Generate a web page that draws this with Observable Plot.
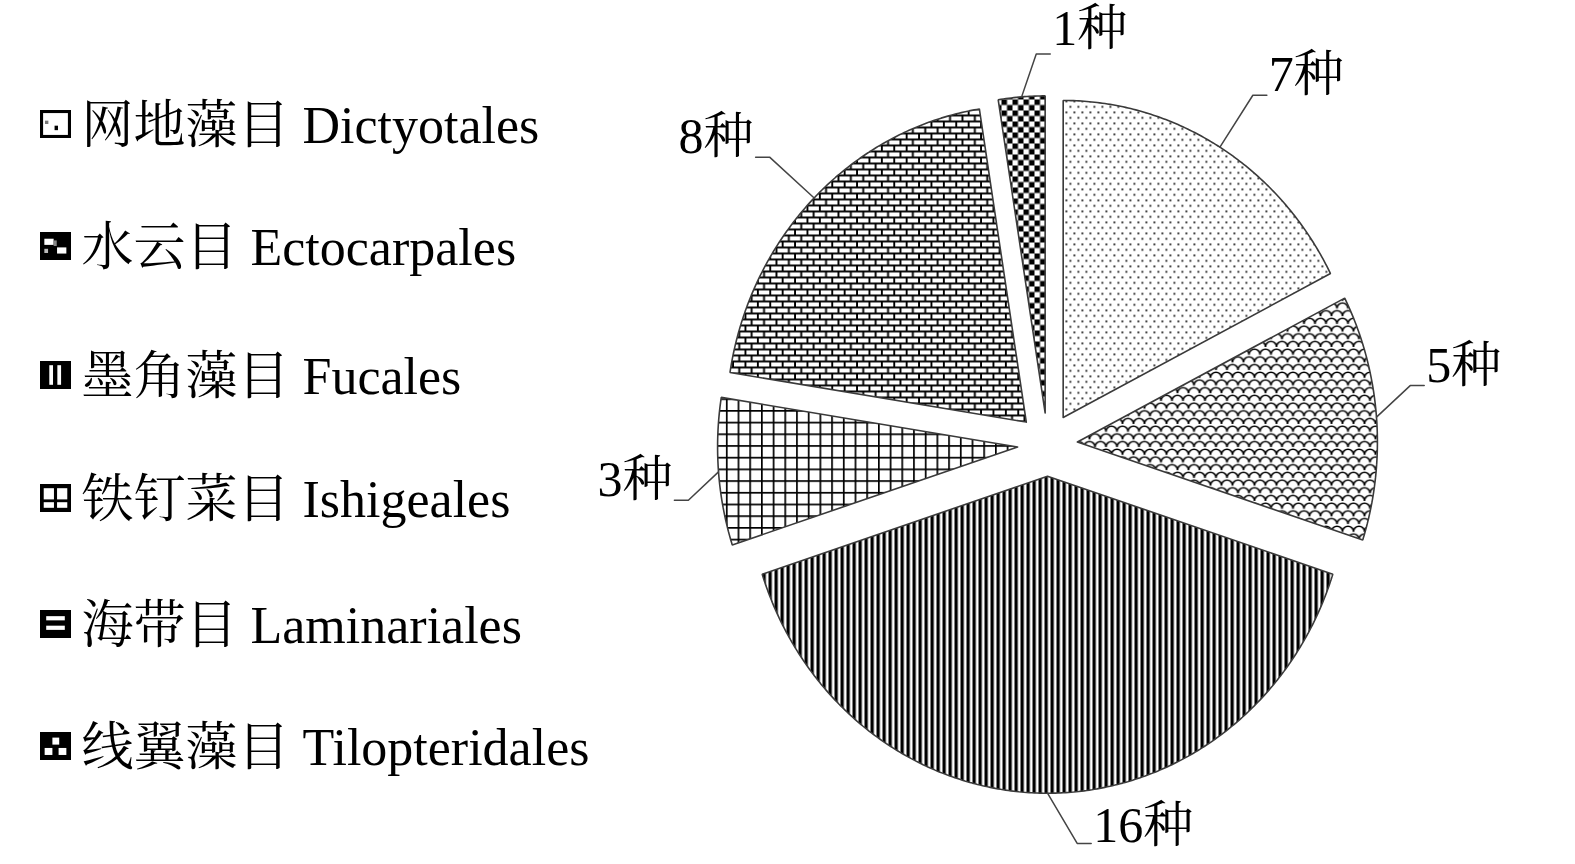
<!DOCTYPE html>
<html>
<head>
<meta charset="utf-8">
<script src="https://cdn.jsdelivr.net/npm/d3@7"></script>
<script src="https://cdn.jsdelivr.net/npm/@observablehq/plot@0.6"></script>
<style>
  html, body { margin: 0; padding: 0; background: #fff; overflow: hidden; }
  #chart svg { display: block; }
</style>
</head>
<body>
<div id="chart"></div>
<script>
// ---------- data ----------
const orders = ["网地藻目 Dictyotales", "水云目 Ectocarpales", "墨角藻目 Fucales",
                "铁钉菜目 Ishigeales", "海带目 Laminariales", "线翼藻目 Tilopteridales"];
const species = [7, 5, 16, 3, 8, 1];
const speciesLabels = ["7种", "5种", "16种", "3种", "8种", "1种"];

// ---------- layout ----------
const W = 1575, H = 864;
const cx = 1047, cy = 444, Rx = 300, Ry = 317, explode = 0.1;
const labelShift = [5.4, -6.1, -16.1, -0.2, -4, 11.5];      // degrees
const labelRadius = [1.35, 1.31, 1.15, 1.28, 1.37, 1.22];
const tailDrop = [20, 20, 17, 20, 20, 25];
const labelSize = 50, legendSize = 52;
const legendY = [124, 246, 375, 498, 624, 746];
const font = "'Liberation Serif', 'Times New Roman', 'Noto Serif CJK SC', 'Noto Sans CJK SC', serif";

// ---------- geometry ----------
const arcs = d3.pie().sort(null).value(d => d)(species);
const slices = arcs.map((a, i) => {
  const mid = (a.startAngle + a.endAngle) / 2;
  const ox = cx + explode * Math.sin(mid) * Rx;
  const oy = cy - explode * Math.cos(mid) * Ry;
  const n = Math.max(2, Math.ceil((a.endAngle - a.startAngle) / (Math.PI / 360)));
  const pts = [{x: ox, y: oy}];
  for (let k = 0; k <= n; k++) {
    const t = a.startAngle + (a.endAngle - a.startAngle) * k / n;
    pts.push({x: ox + Math.sin(t) * Rx, y: oy - Math.cos(t) * Ry});
  }
  pts.push({x: ox, y: oy});
  const th = mid + labelShift[i] * Math.PI / 180;
  const lx = ox + labelRadius[i] * Math.sin(th) * Rx;
  const ly = oy - labelRadius[i] * Math.cos(th) * Ry;
  const ax = ox + Math.sin(mid) * Rx, ay = oy - Math.cos(mid) * Ry;
  const txt = speciesLabels[i];
  const w = ((txt.length - 1) * 0.5 + 1) * labelSize;
  const right = lx > ax;
  const tailY = ly + tailDrop[i];
  const tailX = right ? lx - w / 2 - 2 : lx + w / 2 + 2;
  const elbowX = right ? tailX - 14 : tailX + 14;
  const leader = [{x: ax, y: ay}, {x: elbowX, y: tailY}, {x: tailX, y: tailY}];
  return {i, pts, lx, ly, txt, leader};
});

const legendRows = orders.map((name, i) => ({name, i, y: legendY[i]}));

// ---------- marks ----------
const marks = [];
slices.forEach(s => {
  marks.push(Plot.line(s.pts, {x: "x", y: "y", fill: `url(#pie${s.i})`, stroke: "#3a3a3a", strokeWidth: 1.6, strokeLinejoin: "miter"}));
});
slices.forEach(s => {
  marks.push(Plot.line(s.leader, {x: "x", y: "y", stroke: "#444", strokeWidth: 1.5}));
  marks.push(Plot.text([s], {x: "lx", y: "ly", text: "txt", fontSize: labelSize, fontFamily: font, fill: "black", textAnchor: "middle", lineAnchor: "middle"}));
});
legendRows.forEach(r => {
  marks.push(Plot.rect([r], {x1: () => 40, x2: () => 71, y1: d => d.y - 14, y2: d => d.y + 14, fill: `url(#sw${r.i})`}));
});
marks.push(Plot.text(legendRows, {x: () => 81, y: d => d.y + 2, text: "name", fontSize: legendSize, fontFamily: font, fill: "black", textAnchor: "start", lineAnchor: "middle"}));

const svg = Plot.plot({
  width: W, height: H, margin: 0,
  x: {domain: [0, W], range: [0, W], axis: null},
  y: {domain: [0, H], range: [0, H], axis: null},
  style: {background: "white", fontFamily: font},
  marks
});

// ---------- patterns ----------
const defs = document.createElementNS("http://www.w3.org/2000/svg", "defs");
defs.innerHTML = `
<pattern id="pie0" patternUnits="userSpaceOnUse" width="8" height="11">
  <rect width="8" height="11" fill="white"/>
  <rect x="1" y="1" width="1.7" height="1.7" fill="black"/>
  <rect x="5" y="6.5" width="1.7" height="1.7" fill="black"/>
</pattern>
<pattern id="pie1" patternUnits="userSpaceOnUse" width="11" height="15.4">
  <rect width="11" height="15.4" fill="white"/>
  <path d="M0,7.7 A5.5,5.5 0 0 1 11,7.7 M-5.5,15.4 A5.5,5.5 0 0 1 5.5,15.4 M5.5,15.4 A5.5,5.5 0 0 1 16.5,15.4 M-5.5,0 A5.5,5.5 0 0 1 5.5,0 M5.5,0 A5.5,5.5 0 0 1 16.5,0" stroke="black" stroke-width="1.6" fill="none"/>
</pattern>
<pattern id="pie2" patternUnits="userSpaceOnUse" width="6" height="10">
  <rect width="6" height="10" fill="white"/>
  <rect x="0" y="0" width="3.3" height="10" fill="black"/>
</pattern>
<pattern id="pie3" patternUnits="userSpaceOnUse" width="11.7" height="11.7">
  <rect width="11.7" height="11.7" fill="white"/>
  <rect x="0" y="0" width="1.7" height="11.7" fill="black"/>
  <rect x="0" y="0" width="11.7" height="1.7" fill="black"/>
</pattern>
<pattern id="pie4" patternUnits="userSpaceOnUse" width="12.4" height="12">
  <rect width="12.4" height="12" fill="white"/>
  <rect x="0" y="0" width="12.4" height="1.9" fill="black"/>
  <rect x="0" y="6" width="12.4" height="1.9" fill="black"/>
  <rect x="0" y="0" width="1.9" height="6" fill="black"/>
  <rect x="6.2" y="6" width="1.9" height="6" fill="black"/>
</pattern>
<pattern id="pie5" patternUnits="userSpaceOnUse" width="11" height="11">
  <rect width="11" height="11" fill="white"/>
  <rect x="0" y="0" width="5.5" height="5.5" fill="black"/>
  <rect x="5.5" y="5.5" width="5.5" height="5.5" fill="black"/>
</pattern>
<pattern id="sw0" patternContentUnits="objectBoundingBox" width="1" height="1">
  <rect width="1" height="1" fill="black"/>
  <rect x=".1" y=".11" width=".8" height=".78" fill="white"/>
  <rect x=".16" y=".38" width=".11" height=".12" fill="#777"/>
  <rect x=".47" y=".56" width=".11" height=".16" fill="black"/>
</pattern>
<pattern id="sw1" patternContentUnits="objectBoundingBox" width="1" height="1">
  <rect width="1" height="1" fill="black"/>
  <rect x=".14" y=".24" width=".3" height=".22" fill="white"/>
  <rect x=".44" y=".3" width=".1" height=".2" fill="#888"/>
  <rect x=".55" y=".55" width=".3" height=".22" fill="white"/>
  <rect x=".14" y=".6" width=".12" height=".15" fill="#bbb"/>
</pattern>
<pattern id="sw2" patternContentUnits="objectBoundingBox" width="1" height="1">
  <rect width="1" height="1" fill="black"/>
  <rect x=".3" y=".15" width=".12" height=".7" fill="white"/>
  <rect x=".56" y=".15" width=".12" height=".7" fill="white"/>
</pattern>
<pattern id="sw3" patternContentUnits="objectBoundingBox" width="1" height="1">
  <rect width="1" height="1" fill="black"/>
  <rect x=".12" y=".15" width=".33" height=".4" fill="white"/>
  <rect x=".55" y=".15" width=".33" height=".4" fill="white"/>
  <rect x=".12" y=".65" width=".33" height=".2" fill="white"/>
  <rect x=".55" y=".65" width=".33" height=".2" fill="white"/>
</pattern>
<pattern id="sw4" patternContentUnits="objectBoundingBox" width="1" height="1">
  <rect width="1" height="1" fill="black"/>
  <rect x=".2" y=".22" width=".6" height=".15" fill="white"/>
  <rect x=".2" y=".56" width=".6" height=".15" fill="white"/>
</pattern>
<pattern id="sw5" patternContentUnits="objectBoundingBox" width="1" height="1">
  <rect width="1" height="1" fill="black"/>
  <rect x=".4" y=".2" width=".22" height=".25" fill="white"/>
  <rect x=".15" y=".57" width=".25" height=".25" fill="white"/>
  <rect x=".6" y=".57" width=".25" height=".25" fill="white"/>
</pattern>`;
svg.insertBefore(defs, svg.firstChild);
document.getElementById("chart").appendChild(svg);
</script>
</body>
</html>
